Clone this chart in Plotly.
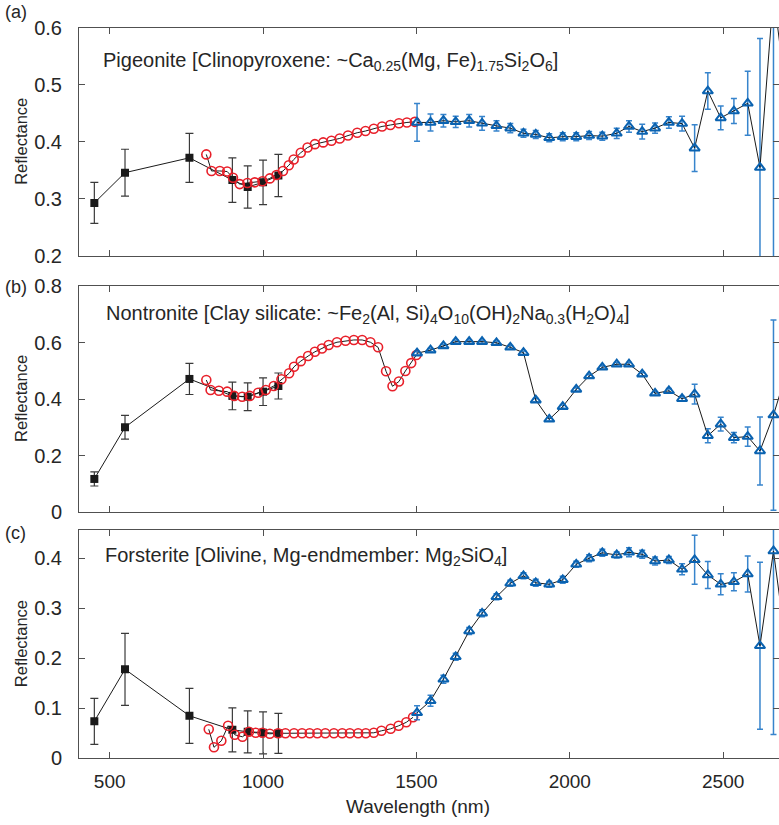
import plotly.graph_objects as go
from plotly.subplots import make_subplots

# ---------------- data ----------------
SQ_WL = [450, 550, 760, 900, 950, 1000, 1050]
TRI_WL = [1502, 1546, 1588, 1628, 1672, 1714, 1761, 1806, 1849, 1889, 1933, 1977, 2021, 2063,
          2106, 2153, 2193, 2236, 2278, 2323, 2366, 2407, 2450, 2492, 2535, 2580, 2620, 2664, 2708]

# (a) Pigeonite
A_SQ = [0.293, 0.346, 0.372, 0.333, 0.321, 0.329, 0.341]
A_SQ_ERR = [0.036, 0.041, 0.043, 0.039, 0.037, 0.039, 0.037]
A_CIRC_WL = [815, 832, 859, 883, 902, 924, 949, 973, 998, 1022, 1044, 1065, 1084, 1100, 1123,
             1145, 1169, 1196, 1223, 1250, 1277, 1307, 1334, 1361, 1388, 1415, 1443, 1469, 1495]
A_CIRC = [0.378, 0.349, 0.349, 0.348, 0.337, 0.326, 0.328, 0.329, 0.331, 0.336, 0.342, 0.349,
          0.359, 0.369, 0.381, 0.390, 0.396, 0.399, 0.402, 0.406, 0.411, 0.416, 0.419, 0.423,
          0.427, 0.4295, 0.4325, 0.434, 0.435]
A_TRI = [0.434, 0.434, 0.437, 0.435, 0.437, 0.4325, 0.428, 0.424, 0.415, 0.413, 0.407, 0.409,
         0.409, 0.411, 0.410, 0.415, 0.427, 0.418, 0.424, 0.434, 0.432, 0.389, 0.489, 0.442,
         0.454, 0.4675, 0.355, 0.66, 0.47]
A_TRI_ERR = [0.033, 0.015, 0.011, 0.010, 0.011, 0.012, 0.009, 0.008, 0.007, 0.007, 0.007, 0.007,
             0.007, 0.007, 0.007, 0.009, 0.010, 0.013, 0.009, 0.010, 0.013, 0.041, 0.032, 0.021,
             0.022, 0.056, 0.226, 0.7, 0.0]

# (b) Nontronite
B_SQ = [0.117, 0.300, 0.471, 0.411, 0.408, 0.426, 0.446]
B_SQ_ERR = [0.025, 0.042, 0.055, 0.049, 0.049, 0.049, 0.046]
B_CIRC_WL = [815, 829, 856, 883, 906, 932, 957, 984, 1009, 1035, 1060, 1085, 1101, 1123, 1147,
             1169, 1192, 1214, 1241, 1269, 1296, 1323, 1350, 1375, 1401, 1422, 1443, 1464, 1483, 1500]
B_CIRC = [0.467, 0.432, 0.429, 0.426, 0.411, 0.408, 0.411, 0.422, 0.432, 0.446, 0.470, 0.491,
          0.514, 0.534, 0.552, 0.567, 0.579, 0.591, 0.601, 0.606, 0.609, 0.609, 0.601, 0.583,
          0.498, 0.445, 0.462, 0.499, 0.527, 0.556]
B_TRI = [0.562, 0.573, 0.588, 0.603, 0.603, 0.603, 0.599, 0.583, 0.564, 0.396, 0.328, 0.373,
         0.434, 0.481, 0.512, 0.523, 0.523, 0.488, 0.420, 0.429, 0.401, 0.417, 0.270, 0.311,
         0.263, 0.267, 0.216, 0.343, 0.50]
B_TRI_ERR = [0.006, 0.006, 0.006, 0.006, 0.006, 0.006, 0.006, 0.006, 0.006, 0.006, 0.006, 0.006,
             0.006, 0.006, 0.006, 0.006, 0.006, 0.006, 0.006, 0.008, 0.008, 0.035, 0.025, 0.024,
             0.018, 0.034, 0.12, 0.337, 0.0]

# (c) Forsterite
C_SQ = [0.074, 0.178, 0.085, 0.057, 0.053, 0.051, 0.050]
C_SQ_ERR = [0.046, 0.072, 0.055, 0.044, 0.042, 0.042, 0.040]
C_CIRC_WL = [823, 840, 864, 886, 908, 933, 954, 976, 998, 1022, 1049, 1073, 1101, 1127, 1152,
             1177, 1203, 1231, 1258, 1283, 1310, 1335, 1361, 1386, 1416, 1442, 1467, 1489]
C_CIRC = [0.058, 0.022, 0.035, 0.065, 0.047, 0.043, 0.053, 0.051, 0.051, 0.049, 0.050, 0.050,
          0.050, 0.050, 0.050, 0.050, 0.050, 0.050, 0.050, 0.050, 0.050, 0.050, 0.051, 0.055,
          0.059, 0.065, 0.072, 0.082]
C_TRI = [0.091, 0.115, 0.158, 0.203, 0.2546, 0.290, 0.323, 0.350, 0.365, 0.351, 0.348, 0.357,
         0.388, 0.400, 0.411, 0.4066, 0.412, 0.408, 0.3946, 0.3966, 0.378, 0.397, 0.3666, 0.348,
         0.353, 0.3686, 0.225, 0.4146, 0.21]
C_TRI_ERR = [0.014, 0.011, 0.008, 0.007, 0.007, 0.007, 0.006, 0.006, 0.006, 0.007, 0.006, 0.007,
             0.006, 0.007, 0.007, 0.006, 0.009, 0.008, 0.008, 0.007, 0.011, 0.049, 0.027, 0.021,
             0.018, 0.036, 0.167, 0.367, 0.0]

TITLES = [
    "Pigeonite [Clinopyroxene: ~Ca<sub>0.25</sub>(Mg, Fe)<sub>1.75</sub>Si<sub>2</sub>O<sub>6</sub>]",
    "Nontronite [Clay silicate: ~Fe<sub>2</sub>(Al, Si)<sub>4</sub>O<sub>10</sub>(OH)<sub>2</sub>Na<sub>0.3</sub>(H<sub>2</sub>O)<sub>4</sub>]",
    "Forsterite [Olivine, Mg-endmember: Mg<sub>2</sub>SiO<sub>4</sub>]",
]
PANEL_LABELS = ["(a)", "(b)", "(c)"]
Y_RANGES = [[0.2, 0.6], [0, 0.8], [0, 0.4566]]
Y_DTICK = [0.1, 0.2, 0.1]

# ---------------- figure ----------------
W, H = 779, 825
FONT = "Liberation Sans, Arial, sans-serif"
TXT = "#262626"
AX = "#505050"


def fx(px):
    return px / W


def fy(py):
    return 1 - py / H


fig = make_subplots(rows=3, cols=1)

panels = [
    (A_SQ, A_SQ_ERR, A_CIRC_WL, A_CIRC, A_TRI, A_TRI_ERR),
    (B_SQ, B_SQ_ERR, B_CIRC_WL, B_CIRC, B_TRI, B_TRI_ERR),
    (C_SQ, C_SQ_ERR, C_CIRC_WL, C_CIRC, C_TRI, C_TRI_ERR),
]

# pixel extents of each panel (top, bottom)
PIX = [(27.7, 256.0), (286.0, 512.0), (530.0, 758.3)]
X_LEFT, X_RIGHT = 79.0, 779.0

for i, (sq, sqe, cwl, cv, tv, te) in enumerate(panels):
    r = i + 1
    fig.add_trace(go.Scatter(
        x=SQ_WL, y=sq, mode="lines+markers",
        line=dict(color="#1a1a1a", width=1),
        marker=dict(symbol="square", size=8, color="#1a1a1a"),
        error_y=dict(type="data", array=sqe, color="#3a3a3a", thickness=1.2, width=4),
        showlegend=False), row=r, col=1)
    fig.add_trace(go.Scatter(
        x=cwl, y=cv, mode="lines+markers",
        line=dict(color="#1a1a1a", width=1),
        marker=dict(symbol="circle-open", size=9, color="#e8202a", line=dict(width=1.6, color="#e8202a")),
        showlegend=False), row=r, col=1)
    fig.add_trace(go.Scatter(
        x=TRI_WL, y=tv, mode="lines+markers",
        line=dict(color="#1a1a1a", width=1),
        marker=dict(symbol="triangle-up-open", size=9, color="#0a62b0", line=dict(width=2, color="#0a62b0")),
        error_y=dict(type="data", array=te, color="rgba(20,110,195,0.85)", thickness=1.5, width=3),
        showlegend=False), row=r, col=1)

    top, bot = PIX[i]
    fig.update_yaxes(row=r, col=1, domain=[fy(bot), fy(top)], range=Y_RANGES[i],
                     dtick=Y_DTICK[i], tick0=0, ticks="inside", ticklen=6, tickcolor=AX,
                     showline=True, linecolor=AX, linewidth=1, mirror="ticks", automargin=False,
                     showgrid=False, zeroline=False, ticklabelstandoff=12,
                     tickfont=dict(family=FONT, size=20, color=TXT))
    fig.update_xaxes(row=r, col=1, domain=[fx(X_LEFT), min(1.0, fx(X_RIGHT))], range=[400, 2682],
                     tickvals=[500, 1000, 1500, 2000, 2500], ticks="inside", ticklen=6, tickcolor=AX,
                     showline=True, linecolor=AX, linewidth=1, mirror="ticks", automargin=False,
                     showgrid=False, zeroline=False, showticklabels=(r == 3), ticklabelstandoff=6,
                     tickfont=dict(family=FONT, size=19, color=TXT))

annots = []
LBL_Y = [12, 287, 533]
TITLE_Y = [61, 314, 556]
TITLE_X = [101, 104, 103]
for i in range(3):
    annots.append(dict(text=PANEL_LABELS[i], x=fx(3), y=fy(LBL_Y[i]), xref="paper", yref="paper",
                       xanchor="left", yanchor="middle", showarrow=False,
                       font=dict(family=FONT, size=18, color=TXT)))
    annots.append(dict(text=TITLES[i], x=fx(TITLE_X[i]), y=fy(TITLE_Y[i]), xref="paper", yref="paper",
                       xanchor="left", yanchor="middle", showarrow=False,
                       font=dict(family=FONT, size=20, color=TXT)))
    top, bot = PIX[i]
    annots.append(dict(text="Reflectance", x=fx(21), y=fy((top + bot) / 2), xref="paper", yref="paper",
                       xanchor="center", yanchor="middle", showarrow=False, textangle=-90,
                       font=dict(family=FONT, size=16.5, color=TXT)))
annots.append(dict(text="Wavelength (nm)", x=fx(418), y=fy(806), xref="paper", yref="paper",
                   xanchor="center", yanchor="middle", showarrow=False,
                   font=dict(family=FONT, size=19, color=TXT)))

fig.update_layout(width=W, height=H, margin=dict(l=0, r=0, t=0, b=0, autoexpand=False),
                  paper_bgcolor="white", plot_bgcolor="white", hovermode=False,
                  font=dict(family=FONT, color=TXT), annotations=annots, showlegend=False)

fig.write_html("out.html", config={"displayModeBar": False, "staticPlot": True},
               post_script="document.body.style.margin='0';document.body.style.overflow='hidden';")
